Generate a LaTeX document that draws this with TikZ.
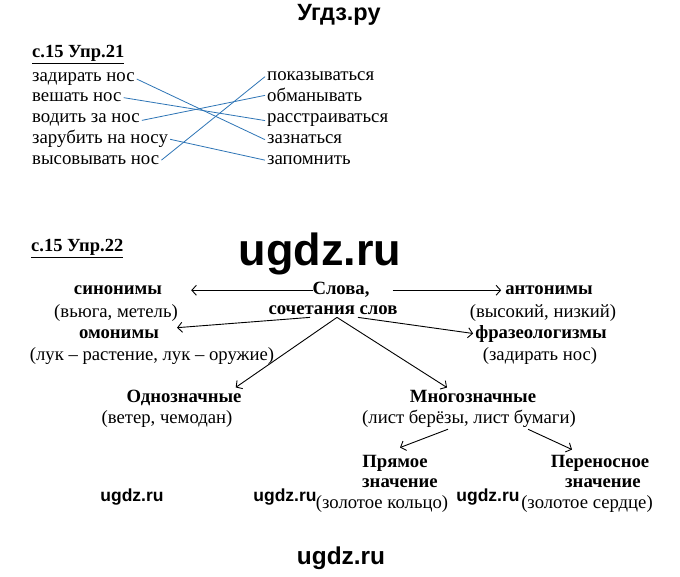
\documentclass[tikz,border=0pt]{standalone}
\usepackage{fontspec}
\setmainfont{Liberation Serif}
\newfontfamily\wmfont{Liberation Sans}
\usetikzlibrary{arrows.meta,calc}
\definecolor{linkblue}{RGB}{46,117,182}
\tikzset{
  txt/.style={font=\fontsize{18.7}{21}\selectfont, inner sep=2pt, anchor=base},
  ttl/.style={font=\fontsize{18.7}{21}\selectfont\bfseries, inner sep=2pt, anchor=base},
  hdr/.style={font=\fontsize{18.5}{21}\selectfont\bfseries, inner sep=0pt, anchor=base west},
  lft/.style={font=\fontsize{18.8}{21}\selectfont, inner sep=2pt, anchor=base west},
  link/.style={draw=linkblue, line width=0.8pt},
  arr/.style={draw, line width=0.9pt, -{Straight Barb[length=4.5pt,width=10pt]}},
  wmsmall/.style={font=\wmfont\bfseries\fontsize{17.5}{20}\selectfont, inner sep=0pt},
}
\begin{document}
\begin{tikzpicture}[x=1pt,y=-1pt]
\fill[white] (0,0) rectangle (680,577);
\useasboundingbox (0,0) rectangle (680,577);

% watermarks
\node[font=\wmfont\bfseries\fontsize{23.5}{26}\selectfont, inner sep=0pt] (wmtop) at (339,15) {Угдз.ру};
\node[font=\wmfont\bfseries\fontsize{45}{50}\selectfont, inner sep=0pt, anchor=base] (wmbig) at (320,266) {ugdz.ru};
\node[wmsmall] (wm1) at (132,497) {ugdz.ru};
\node[wmsmall] (wm2) at (285,497) {ugdz.ru};
\node[wmsmall] (wm3) at (488,497) {ugdz.ru};
\node[font=\wmfont\bfseries\fontsize{24.4}{27}\selectfont, inner sep=0pt] (wmbot) at (341,558) {ugdz.ru};

% exercise 21
\node[hdr] (h21) at (32,58) {\underline{с.15 Упр.21}};
\node[lft] (l1) at (30,81.5) {задирать нос};
\node[lft] (l2) at (30,102) {вешать нос};
\node[lft] (l3) at (30,123) {водить за нос};
\node[lft] (l4) at (30,144) {зарубить на носу};
\node[lft] (l5) at (30,164.5) {высовывать нос};
\node[lft] (r1) at (265,81) {показываться};
\node[lft] (r2) at (265,102) {обманывать};
\node[lft] (r3) at (265,123) {расстраиваться};
\node[lft] (r4) at (265,144) {зазнаться};
\node[lft] (r5) at (265,164.5) {запомнить};
\draw[link] (l1.east) -- (r4.west);
\draw[link] (l2.east) -- (r3.west);
\draw[link] (l3.east) -- (r2.west);
\draw[link] (l4.east) -- (r5.west);
\draw[link] (l5.east) -- (r1.west);

% exercise 22
\node[hdr] (h22) at (31,252) {\underline{с.15 Упр.22}};
\node[ttl] (slova1) at (341,295) {Слова,};
\node[ttl] (slova2) at (333,315) {сочетания слов};
\node[ttl] (sin) at (118,295) {синонимы};
\node[txt] (sinex) at (116,317) {(вьюга, метель)};
\node[ttl] (ant) at (549,295) {антонимы};
\node[txt] (antex) at (543,317) {(высокий, низкий)};
\node[ttl] (omo) at (119,338) {омонимы};
\node[txt] (omoex) at (152,360) {(лук – растение, лук – оружие)};
\node[ttl] (fraz) at (541,338) {фразеологизмы};
\node[txt] (frazex) at (540,360) {(задирать нос)};
\node[ttl] (odno) at (184,402) {Однозначные};
\node[txt] (odnoex) at (167,423) {(ветер, чемодан)};
\node[ttl] (mnogo) at (473,402) {Многозначные};
\node[txt] (mnogoex) at (469,423) {(лист берёзы, лист бумаги)};
\node[ttl] (pryam) at (395,467) {Прямое};
\node[ttl] (pryam2) at (400,487) {значение};
\node[txt] (pryamex) at (382,508) {(золотое кольцо)};
\node[ttl] (peren) at (600,467) {Переносное};
\node[ttl] (peren2) at (603,487) {значение};
\node[txt] (perenex) at (587,508) {(золотое сердце)};

\draw[arr, shorten <=-3pt, shorten >=27pt] (slova1.west) -- (slova1.west -| sin.east);
\draw[arr, shorten <=21pt, shorten >=2pt] (slova1.east) -- (slova1.east -| ant.west);
\draw[arr] ($(slova2.south)+(-23,0)$) -- ($(omo.east)+(16,-6)$);
\draw[arr] ($(slova2.south)+(25,0)$) -- (fraz.west);
\draw[arr] ($(slova2.south)+(4,0)$) -- ($(odno.north east)+(-8,0)$);
\draw[arr] ($(slova2.south)+(4,0)$) -- ($(mnogo.north)+(-26,0)$);
\draw[arr] ($(mnogoex.south)+(-21,0)$) -- ($(pryam.north)+(5,-5)$);
\draw[arr] ($(mnogoex.south)+(59,0)$) -- ($(peren.north)+(-28,-3)$);
\end{tikzpicture}
\end{document}
